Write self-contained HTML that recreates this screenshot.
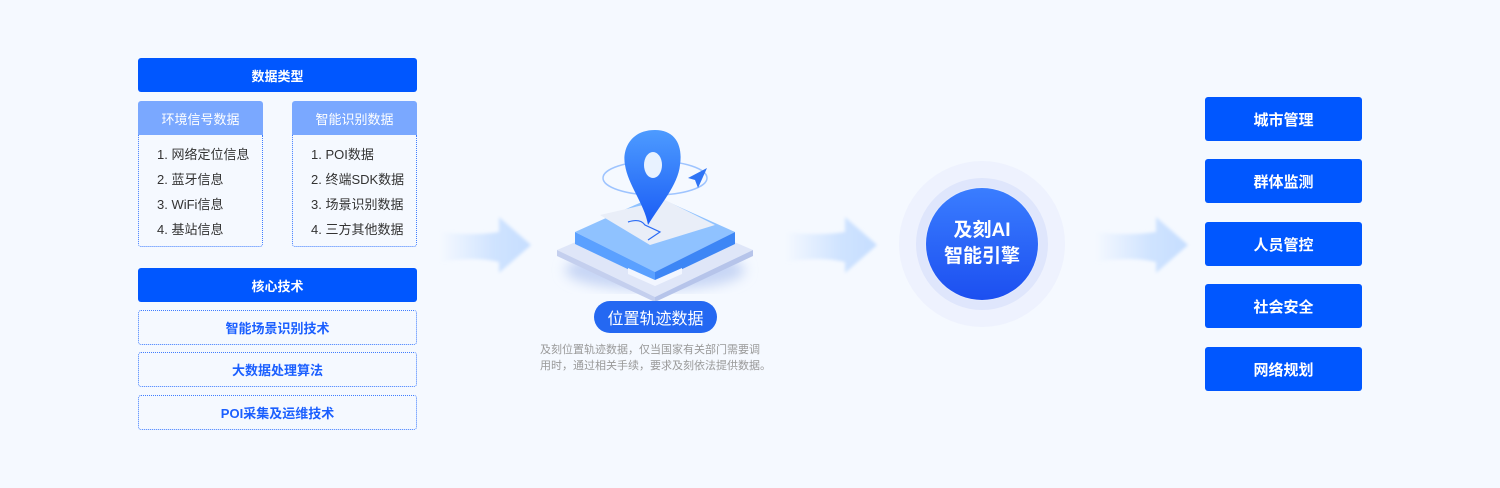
<!DOCTYPE html>
<html><head><meta charset="utf-8"><style>
*{margin:0;padding:0;box-sizing:border-box}
body{width:1500px;height:488px;background:#f5f9ff;position:relative;overflow:hidden;font-family:"Liberation Sans","Noto Sans CJK SC",sans-serif}
.a{position:absolute}
.hdr{background:#0057ff;color:#fff;font-weight:bold;font-size:13px;display:flex;align-items:center;justify-content:center;border-radius:3px}
.sub{background:#7aa8ff;color:#fff;font-size:13px;display:flex;align-items:center;justify-content:center;border-radius:3px 3px 0 0}
.lst{border:1px dotted #3f7dff;border-top:none;border-radius:0 0 3px 3px;font-size:13px;color:#333;padding:7px 0 0 18px;line-height:25px}
.dot{border:1px dotted #3f7dff;border-radius:3px;color:#1b5fff;font-weight:bold;font-size:13px;display:flex;align-items:center;justify-content:center}
.rb{background:#0057ff;color:#fff;font-weight:bold;font-size:15px;display:flex;align-items:center;justify-content:center;border-radius:3px;left:1205px;width:157px;height:44px}
</style></head><body>
<div class="a hdr" style="left:138px;top:58px;width:279px;height:34px">数据类型</div>
<div class="a sub" style="left:138px;top:101px;width:125px;height:34px">环境信号数据</div>
<div class="a lst" style="left:138px;top:135px;width:125px;height:112px">1. 网络定位信息<br>2. 蓝牙信息<br>3. WiFi信息<br>4. 基站信息</div>
<div class="a sub" style="left:292px;top:101px;width:125px;height:34px">智能识别数据</div>
<div class="a lst" style="left:292px;top:135px;width:125px;height:112px">1. POI数据<br>2. 终端SDK数据<br>3. 场景识别数据<br>4. 三方其他数据</div>
<div class="a hdr" style="left:138px;top:268px;width:279px;height:34px">核心技术</div>
<div class="a dot" style="left:138px;top:310px;width:279px;height:35px">智能场景识别技术</div>
<div class="a dot" style="left:138px;top:352px;width:279px;height:35px">大数据处理算法</div>
<div class="a dot" style="left:138px;top:395px;width:279px;height:35px">POI采集及运维技术</div>

<svg class="a" style="left:0;top:0" width="1500" height="488">
<defs>
<linearGradient id="ag" x1="0" x2="1"><stop offset="0" stop-color="#cfe3ff" stop-opacity="0"/><stop offset="0.6" stop-color="#cfe3ff"/><stop offset="1" stop-color="#c6deff"/></linearGradient>
<filter id="bl"><feGaussianBlur stdDeviation="1.5"/></filter>
<filter id="bl2"><feGaussianBlur stdDeviation="6"/></filter>
<linearGradient id="pin" x1="0" y1="0" x2="0" y2="1"><stop offset="0" stop-color="#4d9bff"/><stop offset="1" stop-color="#1a5cf5"/></linearGradient>
</defs>
<g filter="url(#bl)">
<path d="M440 232 Q475 236 499 232 L499 217 L531 245 L499 273 L499 262 Q475 256 440 262 Z" fill="url(#ag)"/>
<path d="M785 232 Q820 236 845 232 L845 217 L877 245 L845 273 L845 262 Q820 256 785 262 Z" fill="url(#ag)"/>
<path d="M1095 232 Q1130 236 1156 232 L1156 217 L1188 245 L1156 273 L1156 262 Q1130 256 1095 262 Z" fill="url(#ag)"/>
</g>
<ellipse cx="655" cy="270" rx="90" ry="20" fill="#c7d6f5" filter="url(#bl2)"/>
<path d="M557 250 L655 208 L753 250 L655 297 Z" fill="#dfe6f8"/>
<path d="M557 250 L655 297 L655 302 L557 256 Z" fill="#c4cfee"/>
<path d="M753 250 L655 297 L655 302 L753 256 Z" fill="#b6c4ea"/>
<path d="M575 232 L655 196 L735 232 L655 272 Z" fill="#8fc2ff"/>
<path d="M575 232 L655 272 L655 282 L575 244 Z" fill="#5aa0ff"/>
<path d="M735 232 L655 272 L655 282 L735 244 Z" fill="#3d86f5"/>
<path d="M628 268 L655 280 L682 268 L682 274 L655 286 L628 274 Z" fill="#f2f6ff"/>
<path d="M600 215 L665 200 L715 225 L650 245 Z" fill="#e9eef8"/>
<path d="M628 222 Q640 218 645 225 L660 232 L648 240" stroke="#2b6cf5" fill="none" stroke-width="1.2"/>
<ellipse cx="655" cy="178" rx="52" ry="17" fill="none" stroke="#9ec4ff" stroke-width="1.5"/>
<path d="M655 130 C630 130 622 150 625 165 C628 185 645 205 648 225 C660 205 678 185 680 165 C683 145 675 130 655 130 Z" fill="url(#pin)"/>
<ellipse cx="653" cy="165" rx="9" ry="13" fill="#e8f2ff"/>
<path d="M688 178 L707 168 L698 188 L695 180 Z" fill="#2f74f5"/>
</svg>
<div class="a" style="left:594px;top:301px;width:123px;height:32px;border-radius:16px;background:#2468f2;color:#fff;font-size:16px;display:flex;align-items:center;justify-content:center">位置轨迹数据</div>
<div class="a" style="left:540px;top:342px;white-space:nowrap;font-size:11px;line-height:16px;color:#999">及刻位置轨迹数据，仅当国家有关部门需要调<br>用时，通过相关手续，要求及刻依法提供数据。</div>

<div class="a" style="left:899px;top:161px;width:166px;height:166px;border-radius:50%;background:#eef2fe"></div>
<div class="a" style="left:916px;top:178px;width:132px;height:132px;border-radius:50%;background:#dfe6fc"></div>
<div class="a" style="left:926px;top:188px;width:112px;height:112px;border-radius:50%;background:linear-gradient(#3a7dff,#1c4ff0);box-shadow:0 0 0 1px #e4eafd;color:#fff;font-weight:bold;font-size:19px;line-height:26px;display:flex;align-items:center;justify-content:center;text-align:center">及刻AI<br>智能引擎</div>

<div class="a rb" style="top:97px">城市管理</div>
<div class="a rb" style="top:159px">群体监测</div>
<div class="a rb" style="top:222px">人员管控</div>
<div class="a rb" style="top:284px">社会安全</div>
<div class="a rb" style="top:347px">网络规划</div>
</body></html>
